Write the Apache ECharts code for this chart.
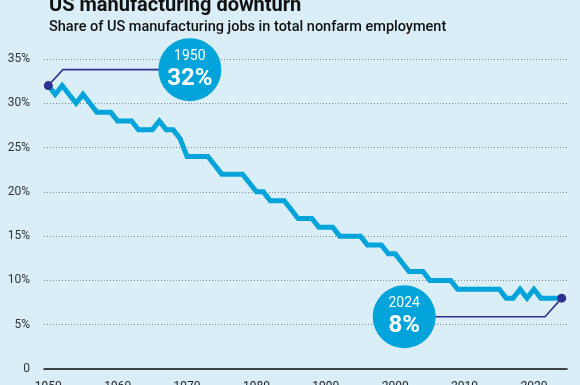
<!DOCTYPE html>
<html>
<head>
<meta charset="utf-8">
<script src="https://cdn.jsdelivr.net/npm/echarts@6/dist/echarts.min.js"></script>
<style>
html,body{margin:0;padding:0;background:#daeef8;}
#chart{width:580px;height:385px;}
</style>
</head>
<body>
<div id="chart"></div>
<script>
// ---- data ----
const titleText = "US manufacturing downturn";
const subtitleText = "Share of US manufacturing jobs in total nonfarm employment";
const years = [1950,1951,1952,1953,1954,1955,1956,1957,1958,1959,
               1960,1961,1962,1963,1964,1965,1966,1967,1968,1969,
               1970,1971,1972,1973,1974,1975,1976,1977,1978,1979,
               1980,1981,1982,1983,1984,1985,1986,1987,1988,1989,
               1990,1991,1992,1993,1994,1995,1996,1997,1998,1999,
               2000,2001,2002,2003,2004,2005,2006,2007,2008,2009,
               2010,2011,2012,2013,2014,2015,2016,2017,2018,2019,
               2020,2021,2022,2023,2024];
const sharePct = [32,31,32,31,30,31,30,29,29,29,
                  28,28,28,27,27,27,28,27,27,26,
                  24,24,24,24,23,22,22,22,22,21,
                  20,20,19,19,19,18,17,17,17,16,
                  16,16,15,15,15,15,14,14,14,13,
                  13,12,11,11,11,10,10,10,10,9,
                  9,9,9,9,9,9,8,8,9,8,
                  9,8,8,8,8];
const yTicks = [0,5,10,15,20,25,30,35];
const xTickYears = [1950,1960,1970,1980,1990,2000,2010,2020];
// callouts: highlighted point, elbow of the leader line, bubble centre (data units)
const callout1950 = {year:"1950", text:"32%", point:[1950,32], elbow:[1952.1,33.8], bubble:[1970.4,33.8]};
const callout2024 = {year:"2024", text:"8%", point:[2024,8], elbow:[2021.6,5.9], bubble:[2001.3,5.9]};

// ---- chart ----
const BG = '#daeef8', BLUE = '#00a4da', NAVY = '#2d3192';
const FONT = 'Roboto, "Liberation Sans", Arial, sans-serif';
const chart = echarts.init(document.getElementById('chart'), null, {renderer:'canvas'});
const lineData = years.map((y,i)=>[y, sharePct[i]]);

function bubble(c){
  return {
    type:'scatter', xAxisIndex:1, yAxisIndex:1, z:5,
    symbol:'circle', symbolSize:63, itemStyle:{color:BLUE, opacity:1},
    silent:true,
    label:{show:true, position:'inside', formatter:'{a|'+c.year+'}\n{b|'+c.text+'}',
      rich:{
        a:{color:'#fff', fontSize:14, fontFamily:FONT, lineHeight:18, align:'center'},
        b:{color:'#fff', fontSize:24, fontWeight:'bold', fontFamily:FONT, lineHeight:26, align:'center'}
      }},
    data:[c.bubble]
  };
}
function connector(c){
  return {
    type:'line', xAxisIndex:1, yAxisIndex:1, z:3, symbol:'none', silent:true,
    lineStyle:{color:NAVY, width:1.6},
    data:[c.point, c.elbow, c.bubble]
  };
}

chart.setOption({
  backgroundColor: BG,
  animation:false,
  textStyle:{fontFamily:FONT},
  title:[
    {text:titleText, left:44, top:-9, textStyle:{fontSize:20, fontWeight:'bold', color:'#111', fontFamily:FONT, lineHeight:20}},
    {text:subtitleText, left:44, top:14, textStyle:{fontSize:14.5, fontWeight:500, color:'#111', fontFamily:FONT, lineHeight:16}}
  ],
  grid:[
    {left:44, right:13, top:59, bottom:16, outerBoundsMode:'none', containLabel:false},
    {left:48.3, right:18.3, top:59, bottom:16, outerBoundsMode:'none', containLabel:false}
  ],
  xAxis:[
    {gridIndex:0, type:'value', min:0, max:1, axisLine:{show:true, lineStyle:{color:'#111', width:1.5}}, axisTick:{show:false}, axisLabel:{show:false}, splitLine:{show:false}, z:4},
    {gridIndex:1, type:'value', min:1950, max:2024, interval:10,
      axisLine:{show:false}, axisTick:{show:false}, splitLine:{show:false},
      axisLabel:{color:'#222', fontSize:12, margin:12, fontFamily:FONT,
        formatter:v=> xTickYears.includes(v) ? String(v) : ''}}
  ],
  yAxis:[
    {gridIndex:0, type:'value', min:yTicks[0], max:yTicks[yTicks.length-1], interval:5,
      axisLine:{show:false}, axisTick:{show:false},
      axisLabel:{color:'#333', fontSize:12, margin:14, fontFamily:FONT, formatter:v=> v===0 ? '0' : v+'%'},
      splitLine:{show:true, lineStyle:{color:'#7a8a92', type:[1,2], width:1}}},
    {gridIndex:1, type:'value', min:0, max:35, show:false}
  ],
  series:[
    {type:'line', xAxisIndex:1, yAxisIndex:1, z:2, symbol:'none', silent:true,
      lineStyle:{color:BLUE, width:5, join:'miter', cap:'butt'}, data:lineData},
    connector(callout1950),
    connector(callout2024),
    {type:'scatter', xAxisIndex:1, yAxisIndex:1, z:6, symbol:'circle', symbolSize:9, silent:true,
      itemStyle:{color:NAVY, opacity:1}, data:[callout1950.point, callout2024.point]},
    bubble(callout1950),
    bubble(callout2024)
  ]
});
</script>
</body>
</html>
